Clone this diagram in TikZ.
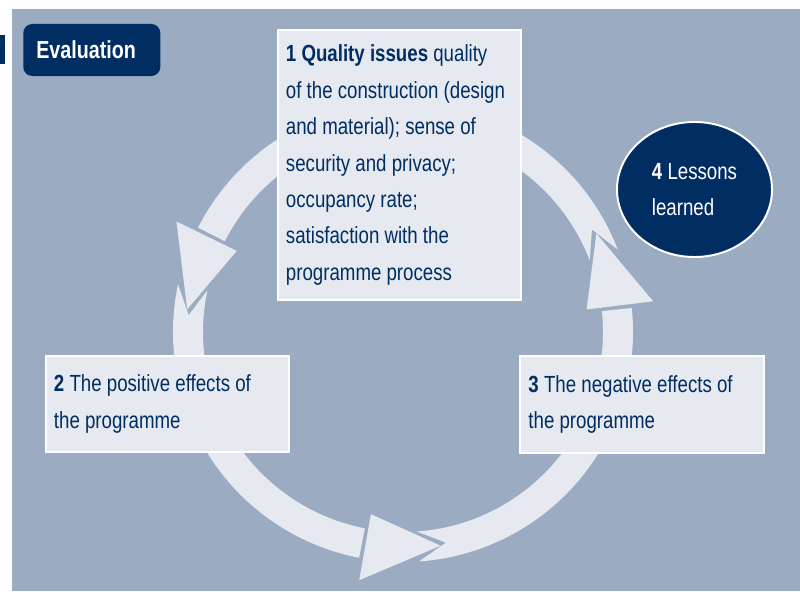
\documentclass[tikz,border=0pt]{standalone}
\usepackage{fontspec}
\setmainfont{Liberation Sans}[FakeStretch=0.8]
\usetikzlibrary{shapes.geometric}
\definecolor{bgblue}{RGB}{155,171,194}
\definecolor{pale}{RGB}{230,234,240}
\definecolor{navy}{RGB}{0,45,98}
\begin{document}
\begin{tikzpicture}[x=0.025cm,y=-0.025cm,
	every node/.style={font=\fontsize{16.6}{25.9}\selectfont, text=navy},
	infobox/.style={draw=white, line width=1.4pt, fill=pale, align=flush left,
		inner xsep=0.2cm, text width=5.675cm, minimum width=6.075cm}]
	\useasboundingbox (0,0) rectangle (800,591);
	\fill[white] (0,0) rectangle (800,591);
	\fill[bgblue] (12,9) rectangle (800,591);
	\fill[navy] (0,35) rectangle (5,64);
	% ring of three arrows
	\begin{scope}[shift={(403,332)}, yscale=-1]
		\foreach \a/\e in {27/153, 174/259, 280/366}
			\fill[pale] (\a-6:230) arc[start angle=\a-6, end angle=\e, radius=230]
				-- (\e:200) arc[start angle=\e, end angle=\a-6, radius=200]
				-- (\a+1.5:215) -- cycle;
		\foreach \b in {7,154,260}
			\fill[pale] (\b:185) -- (\b:252) -- (\b+20:217) -- cycle;
	\end{scope}
	\node[infobox, minimum height=6.75cm] (quality) at (399.5,165)
		{\textbf{1 Quality issues} quality\\of the construction (design\\and material); sense of\\security and privacy;\\occupancy rate;\\satisfaction with the\\programme process};
	\node[infobox, minimum height=2.4cm] (positive) at (167.5,404)
		{\textbf{2} The positive effects of\\the programme};
	\node[infobox, minimum height=2.425cm] (negative) at (642,404.5)
		{\textbf{3} The negative effects of\\the programme};
	\node[ellipse, draw=white, line width=1.4pt, fill=navy, text=white, align=left,
		inner sep=0pt, minimum width=3.875cm, minimum height=3.375cm] (lessons) at (694.5,189.5)
		{\textbf{4} Lessons\\learned};
	\node[fill=navy, rounded corners=0.225cm, text=white, font=\bfseries\fontsize{17.5}{21}\selectfont,
		anchor=west, inner xsep=0.325cm, text width=2.775cm, minimum height=1.3cm] (eval) at (23,50) {Evaluation};
\end{tikzpicture}
\end{document}
